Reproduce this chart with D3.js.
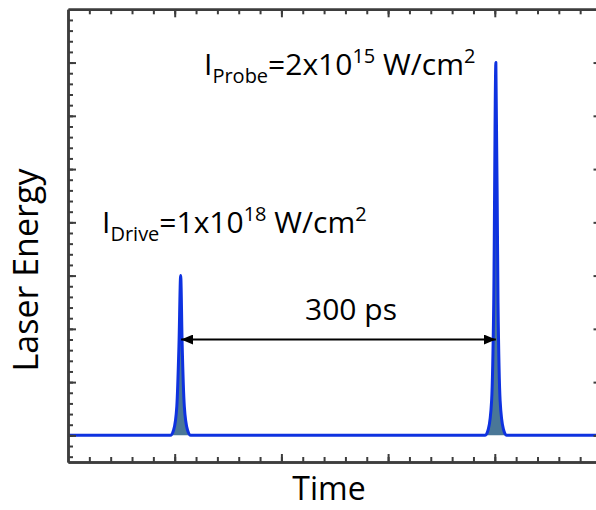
<!DOCTYPE html>
<html>
<head>
<meta charset="utf-8">
<script src="https://cdnjs.cloudflare.com/ajax/libs/d3/7.8.5/d3.min.js"></script>
<style>
  body { margin: 0; background: #fff; }
  text { font-family: "Open Sans", sans-serif; fill: #000; }
</style>
</head>
<body>
<div id="chart"></div>
<script>
// pulse trace (time in ps, energy in arb. units)
var timePs = [0, 90, 96, 99, 102, 104, 105.6, 107, 109, 112, 115, 125,
              385, 391, 394, 397, 399, 401, 403, 405, 408, 411, 420, 510];
var energy = [0, 0, 0, 0.1, 0.55, 1.7, 3.0, 1.7, 0.55, 0.1, 0, 0,
              0, 0, 0.12, 0.65, 2.5, 7.0, 2.5, 0.65, 0.12, 0, 0, 0];

var arrowFrom = 106, arrowTo = 401, arrowLevel = 1.8;
var delayLabel = "300 ps";
var xLabel = "Time", yLabel = "Laser Energy";

drawChart();

function drawChart() {
  var W = 596, H = 510;
  var m = { left: 68, right: 601.5, top: 9.3, bottom: 462 };

  var x = d3.scaleLinear().domain([0, 500]).range([m.left, m.right]);
  var y = d3.scaleLinear().domain([-0.5, 8]).range([m.bottom, m.top]);

  var svg = d3.select("#chart").append("svg")
    .attr("width", W)
    .attr("height", H);

  var data = timePs.map(function(t, i) { return { t: t, e: energy[i] }; });

  var area = d3.area()
    .x(function(d) { return x(d.t); })
    .y0(y(0))
    .y1(function(d) { return y(d.e); })
    .curve(d3.curveMonotoneX);

  var line = d3.line()
    .x(function(d) { return x(d.t); })
    .y(function(d) { return y(d.e); })
    .curve(d3.curveMonotoneX);

  var defs = svg.append("defs");
  defs.append("clipPath").attr("id", "clip")
    .append("rect").attr("x", m.left).attr("y", m.top)
    .attr("width", m.right - m.left).attr("height", m.bottom - m.top);

  var plot = svg.append("g").attr("clip-path", "url(#clip)");

  plot.append("path")
    .attr("d", area(data))
    .attr("fill", "#4a7797");

  plot.append("path")
    .attr("d", line(data))
    .attr("fill", "none")
    .attr("stroke", "#0e32e0")
    .attr("stroke-width", 3)
    .attr("stroke-linejoin", "round");

  // axes, ticks all pointing inward
  var axisColor = "#3d3d3d";
  function styleAxis(g) {
    g.selectAll(".domain").attr("stroke", axisColor).attr("stroke-width", 2.5);
    g.selectAll(".tick line").attr("stroke", axisColor).attr("stroke-width", 2);
    g.selectAll("text").remove();
  }

  var xMinor = d3.range(20, 500, 20);
  var xMajor = d3.range(100, 500, 100);
  var yMinor = d3.range(-0.4, 8, 0.2);
  var yMajor = d3.range(0, 8, 1);

  svg.append("g").attr("transform", "translate(0," + m.bottom + ")")
    .call(d3.axisBottom(x).tickValues(xMinor).tickSize(-5).tickSizeOuter(0)).call(styleAxis);
  svg.append("g").attr("transform", "translate(0," + m.bottom + ")")
    .call(d3.axisBottom(x).tickValues(xMajor).tickSize(-8).tickSizeOuter(0)).call(styleAxis);
  svg.append("g").attr("transform", "translate(0," + m.top + ")")
    .call(d3.axisTop(x).tickValues(xMinor).tickSize(-5).tickSizeOuter(0)).call(styleAxis);
  svg.append("g").attr("transform", "translate(0," + m.top + ")")
    .call(d3.axisTop(x).tickValues(xMajor).tickSize(-8).tickSizeOuter(0)).call(styleAxis);

  svg.append("g").attr("transform", "translate(" + m.left + ",0)")
    .call(d3.axisLeft(y).tickValues(yMinor).tickSize(-5).tickSizeOuter(0)).call(styleAxis);
  svg.append("g").attr("transform", "translate(" + m.left + ",0)")
    .call(d3.axisLeft(y).tickValues(yMajor).tickSize(-8).tickSizeOuter(0)).call(styleAxis);
  svg.append("g").attr("transform", "translate(" + m.right + ",0)")
    .call(d3.axisRight(y).tickValues(yMajor).tickSize(-8).tickSizeOuter(0)).call(styleAxis);

  // double-headed arrow between the pulses
  defs.append("marker").attr("id", "head")
    .attr("markerUnits", "userSpaceOnUse")
    .attr("viewBox", "0 0 12 10")
    .attr("refX", 12).attr("refY", 5)
    .attr("markerWidth", 12).attr("markerHeight", 10)
    .attr("orient", "auto-start-reverse")
    .append("path").attr("d", "M0,0 L12,5 L0,10 Z").attr("fill", "#000");

  svg.append("line")
    .attr("x1", x(arrowFrom)).attr("x2", x(arrowTo))
    .attr("y1", y(arrowLevel)).attr("y2", y(arrowLevel))
    .attr("stroke", "#000").attr("stroke-width", 2)
    .attr("marker-start", "url(#head)")
    .attr("marker-end", "url(#head)");

  svg.append("text")
    .attr("x", 351).attr("y", 320)
    .attr("text-anchor", "middle")
    .attr("font-size", 30)
    .text(delayLabel);

  // intensity labels
  function intensity(px, py, sub, mant, exp) {
    var t = svg.append("text").attr("x", px).attr("y", py).attr("font-size", 30);
    t.append("tspan").text("I");
    t.append("tspan").attr("font-size", 20).attr("dy", 8).text(sub);
    t.append("tspan").attr("dy", -8).text("=" + mant + "x10");
    t.append("tspan").attr("font-size", 20).attr("dy", -12).text(exp);
    t.append("tspan").attr("dy", 12).text(" W/cm");
    t.append("tspan").attr("font-size", 20).attr("dy", -12).text("2");
  }
  intensity(204, 75, "Probe", "2", "15");
  intensity(102, 233, "Drive", "1", "18");

  // axis titles
  svg.append("text")
    .attr("x", 329).attr("y", 500)
    .attr("text-anchor", "middle")
    .attr("font-size", 32)
    .text(xLabel);

  svg.append("text")
    .attr("transform", "translate(38,270) rotate(-90)")
    .attr("text-anchor", "middle")
    .attr("font-size", 34)
    .text(yLabel);
}
</script>
</body>
</html>
